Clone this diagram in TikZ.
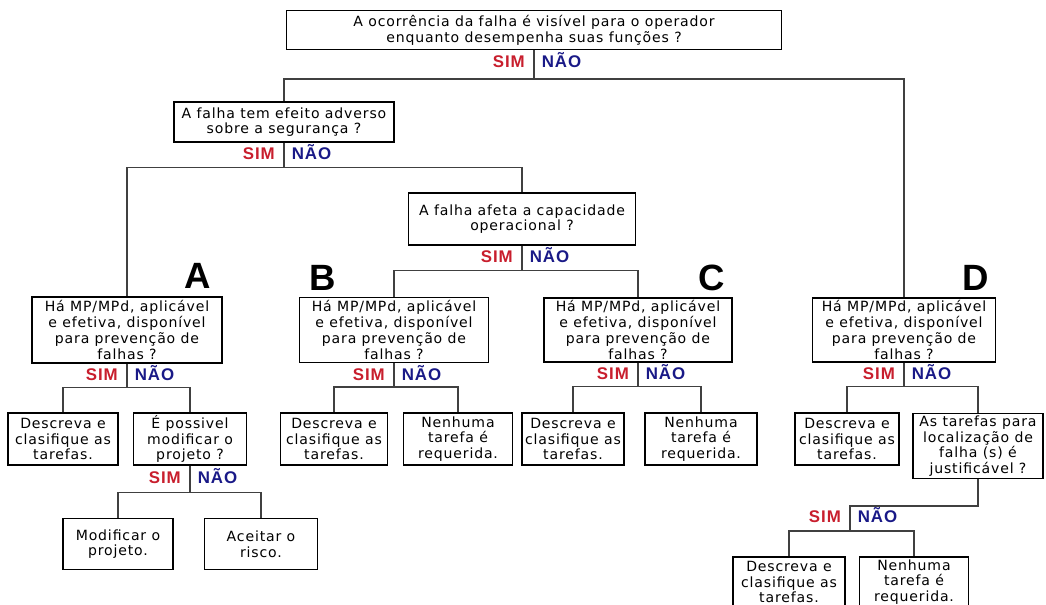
\documentclass[tikz,border=0pt]{standalone}
\usepackage{fontspec}
\setmainfont[LetterSpace=6]{DejaVu Sans}
\newfontfamily\rotulo[LetterSpace=6]{Liberation Sans}
\newfontfamily\letras{Liberation Sans}
\usetikzlibrary{calc}
\definecolor{simvermelho}{RGB}{200,30,45}
\definecolor{naoazul}{RGB}{25,25,135}
\tikzset{
  caixa/.style={draw,align=center,inner sep=1pt,line width=0.9pt,font=\fontsize{10}{11.2}\selectfont},
  medida/.style 2 args={minimum width=#1*0.025cm,minimum height=#2*0.025cm},
  ligacao/.style={draw=black!75,line width=1pt},
  sim/.style={anchor=base east,xshift=-3pt,text=simvermelho,font=\rotulo\bfseries\fontsize{12}{12}\selectfont},
  nao/.style={anchor=base west,xshift=2pt,text=naoazul,font=\rotulo\bfseries\fontsize{12}{12}\selectfont},
  letra/.style={font=\letras\bfseries\fontsize{26}{26}\selectfont}
}
\begin{document}
\begin{tikzpicture}[x=0.025cm,y=-0.025cm]
        \useasboundingbox (0,0) rectangle (1046,605);
        % perguntas principais
        \node[caixa,medida={495}{39}](q1) at(534,30){A ocorrência da falha é visível para o operador\\enquanto desempenha suas funções ?};
        \node[caixa,medida={220}{40}](q2) at(284,122){A falha tem efeito adverso\\sobre a segurança ?};
        \node[caixa,medida={227}{52}](q3) at(522,219){A falha afeta a capacidade\\operacional ?};
        \node[caixa,medida={190}{66}](mpA) at(127,330){Há MP/MPd, aplicável\\e efetiva, disponível\\para prevenção de\\falhas ?};
        \node[caixa,medida={189}{65}](mpB) at(394,330){Há MP/MPd, aplicável\\e efetiva, disponível\\para prevenção de\\falhas ?};
        \node[caixa,medida={188}{64}](mpC) at(638,330){Há MP/MPd, aplicável\\e efetiva, disponível\\para prevenção de\\falhas ?};
        \node[caixa,medida={183}{64}](mpD) at(904,330){Há MP/MPd, aplicável\\e efetiva, disponível\\para prevenção de\\falhas ?};
        \node[letra](la) at(198,276){A};
        \node[letra](lb) at(323,278){B};
        \node[letra](lc) at(712,278){C};
        \node[letra](ld) at(976,278){D};
        % respostas
        \node[caixa,medida={110}{52}](descA) at(63,439){Descreva e\\clasifique as\\tarefas.};
        \node[caixa,medida={113}{52}](possA) at(190,439){É possivel\\modificar o\\projeto ?};
        \node[caixa,medida={107}{52}](descB) at(334,439){Descreva e\\clasifique as\\tarefas.};
        \node[caixa,medida={109}{52}](nenB) at(458,439){Nenhuma\\tarefa é\\requerida.};
        \node[caixa,medida={102}{52}](descC) at(573,439){Descreva e\\clasifique as\\tarefas.};
        \node[caixa,medida={112}{52}](nenC) at(701,439){Nenhuma\\tarefa é\\requerida.};
        \node[caixa,medida={104}{52}](descD) at(847,439){Descreva e\\clasifique as\\tarefas.};
        \node[caixa,medida={130}{65}](justD) at(978,446){As tarefas para\\localização de\\falha (s) é\\justificável ?};
        \node[caixa,medida={110}{51}](modif) at(118,544){Modificar o\\projeto.};
        \node[caixa,medida={113}{51}](aceit) at(261,544){Aceitar o\\risco.};
        \node[caixa,medida={112}{50}](descF) at(789,582){Descreva e\\clasifique as\\tarefas.};
        \node[caixa,medida={109}{50}](nenF) at(914,582){Nenhuma\\tarefa é\\requerida.};
        % ligacoes
        \draw[ligacao](q1.south)--++(0,29)coordinate(j1);
        \draw[ligacao](q2.north)|-(j1)-|(mpD.north);
        \draw[ligacao](q2.south)--++(0,25)coordinate(j2);
        \draw[ligacao](mpA.north)|-(j2)-|(q3.north);
        \draw[ligacao](q3.south)--++(0,25)coordinate(j3);
        \draw[ligacao](mpB.north)|-(j3)-|(mpC.north);
        \draw[ligacao](mpA.south)--++(0,24)coordinate(jA);
        \draw[ligacao](descA.north)|-(jA)-|(possA.north);
        \draw[ligacao](mpB.south)--++(0,24)coordinate(jB);
        \draw[ligacao](descB.north)|-(jB)-|(nenB.north);
        \draw[ligacao](mpC.south)--++(0,24)coordinate(jC);
        \draw[ligacao](descC.north)|-(jC)-|(nenC.north);
        \draw[ligacao](mpD.south)--++(0,24)coordinate(jD);
        \draw[ligacao](descD.north)|-(jD)-|(justD.north);
        \draw[ligacao](possA.south)--++(0,27)coordinate(jE);
        \draw[ligacao](modif.north)|-(jE)-|(aceit.north);
        \draw[ligacao](justD.south)--++(0,27)--++(-128,0)coordinate(jG)--++(0,25)coordinate(jF);
        \draw[ligacao](descF.north)|-(jF)-|(nenF.north);
        % SIM / NAO
        \path(q1.south)++(0,17)node[sim](s1){SIM}node[nao](n1){NÃO};
        \path(q2.south)++(0,17)node[sim](s2){SIM}node[nao](n2){NÃO};
        \path(q3.south)++(0,17)node[sim](s3){SIM}node[nao](n3){NÃO};
        \path(mpA.south)++(0,17)node[sim](sA){SIM}node[nao](nA){NÃO};
        \path(mpB.south)++(0,17)node[sim](sB){SIM}node[nao](nB){NÃO};
        \path(mpC.south)++(0,17)node[sim](sC){SIM}node[nao](nC){NÃO};
        \path(mpD.south)++(0,17)node[sim](sD){SIM}node[nao](nD){NÃO};
        \path(possA.south)++(0,18)node[sim](sE){SIM}node[nao](nE){NÃO};
        \path(jG)++(0,16)node[sim](sG){SIM}node[nao](nG){NÃO};
\end{tikzpicture}
\end{document}
